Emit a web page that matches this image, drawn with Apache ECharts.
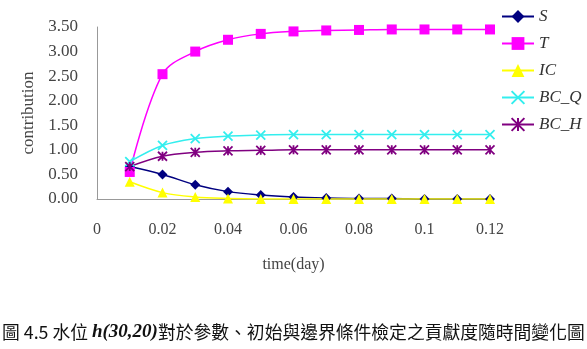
<!DOCTYPE html>
<html>
<head>
<meta charset="utf-8">
<script src="https://cdn.jsdelivr.net/npm/echarts@6/dist/echarts.min.js"></script>
<style>
  html, body { margin: 0; padding: 0; background: #fff; }
  #main { width: 587px; height: 349px; }
</style>
</head>
<body>
<div id="main"></div>
<script>
// time points (day)
var times = [0.01, 0.02, 0.03, 0.04, 0.05, 0.06, 0.07, 0.08, 0.09, 0.10, 0.11, 0.12];
var sVals = [0.66, 0.50, 0.29, 0.15, 0.08, 0.04, 0.02, 0.01, 0.01, 0.00, 0.00, 0.00];
var tVals = [0.55, 2.54, 3.00, 3.24, 3.36, 3.41, 3.43, 3.44, 3.45, 3.45, 3.45, 3.45];
var icVals = [0.35, 0.13, 0.04, 0.01, 0.00, 0.00, 0.00, 0.00, 0.00, 0.00, 0.00, 0.00];
var bcqVals = [0.76, 1.09, 1.23, 1.28, 1.30, 1.31, 1.31, 1.31, 1.31, 1.31, 1.31, 1.31];
var bchVals = [0.66, 0.87, 0.95, 0.98, 0.99, 1.00, 1.00, 1.00, 1.00, 1.00, 1.00, 1.00];
var xTicks = ['0', '0.02', '0.04', '0.06', '0.08', '0.1', '0.12'];

var serif = '"Liberation Serif", "Times New Roman", serif';

function pairs(vals) {
    return times.map(function (t, i) { return [t, vals[i]]; });
}

// x and asterisk markers are stroked paths
var crossPath = 'path://M0,0L10,10M10,0L0,10';
var starPath = 'path://M0,0L10,10M10,0L0,10M5,0L5,10';

function makeSeries(name, vals, color, symbol, size, stroked) {
    return {
        name: name,
        type: 'line',
        smooth: 0.35,
        data: pairs(vals),
        symbol: symbol,
        symbolSize: size,
        showAllSymbol: true,
        lineStyle: { color: color, width: 1.5 },
        itemStyle: stroked
            ? { color: color, borderColor: color, borderWidth: 1.8 }
            : { color: color, borderWidth: 0 },
        color: color
    };
}

var chart = echarts.init(document.getElementById('main'));
var option = {
    animation: false,
    backgroundColor: '#fff',
    grid: { left: 97, right: 97, top: 27, bottom: 150 },
    legend: {
        orient: 'vertical',
        left: 496,
        top: 3,
        itemGap: 10,
        itemWidth: 32,
        itemHeight: 16,
        textStyle: { fontFamily: serif, fontStyle: 'italic', fontSize: 17, color: '#333' },
        data: ['S', 'T', 'IC', 'BC_Q', 'BC_H']
    },
    xAxis: {
        type: 'value',
        min: 0,
        max: 0.12,
        interval: 0.02,
        name: 'time(day)',
        nameLocation: 'middle',
        nameGap: 58,
        nameTextStyle: { fontFamily: serif, fontSize: 16, color: '#444' },
        axisLine: { show: true, lineStyle: { color: '#999' } },
        axisTick: { show: false },
        splitLine: { show: false },
        axisLabel: {
            margin: 23,
            fontFamily: serif, fontSize: 16, color: '#444',
            formatter: function (v) { return xTicks[Math.round(v / 0.02)]; }
        }
    },
    yAxis: {
        type: 'value',
        min: 0,
        max: 3.5,
        interval: 0.5,
        name: 'contribution',
        nameLocation: 'middle',
        nameGap: 60,
        nameRotate: 90,
        nameTextStyle: { fontFamily: serif, fontSize: 17, color: '#444' },
        axisLine: { show: true, lineStyle: { color: '#999' } },
        axisTick: { show: false },
        splitLine: { show: false },
        axisLabel: {
            margin: 19,
            fontFamily: serif, fontSize: 17, color: '#444',
            formatter: function (v) { return v.toFixed(2); }
        }
    },
    series: [
        makeSeries('S', sVals, '#000080', 'diamond', 10, false),
        makeSeries('T', tVals, '#ff00ff', 'rect', 10, false),
        makeSeries('IC', icVals, '#ffff00', 'triangle', 10, false),
        makeSeries('BC_Q', bcqVals, '#33eeee', crossPath, 9, true),
        makeSeries('BC_H', bchVals, '#800080', starPath, 9, true)
    ],
    graphic: [{
        type: 'text',
        left: 2,
        top: 323,
        style: {
            text: '圖 4.5 水位 {h|h(30,20)}對於參數、初始與邊界條件檢定之貢獻度隨時間變化圖',
            fontFamily: '"Noto Sans CJK TC", serif',
            fontSize: 17.8,
            fill: '#111',
            rich: {
                h: { fontFamily: serif, fontStyle: 'italic', fontWeight: 'bold', fontSize: 19, fill: '#111' }
            }
        }
    }]
};
chart.setOption(option);
</script>
</body>
</html>
